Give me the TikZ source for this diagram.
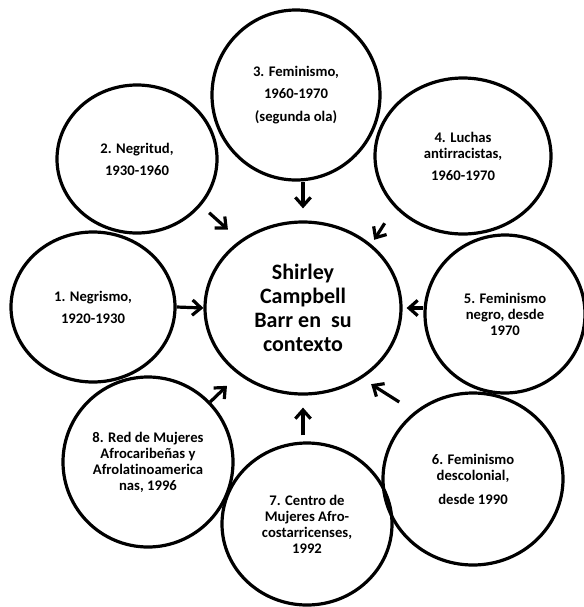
\documentclass[tikz,border=0pt]{standalone}
\usepackage{fontspec}
\setmainfont{Carlito}[Ligatures=NoCommon]
\usepackage{tikz}
\usetikzlibrary{shapes,arrows.meta}
\tikzstyle{bubble} = [ellipse, draw, line width=2.4pt, inner sep=0pt, align=center, font=\fontsize{11}{12}\selectfont\bfseries]
\tikzstyle{hub} = [bubble, font=\fontsize{16.5}{18}\selectfont\bfseries]
\tikzstyle{arr} = [line width=2.4pt, -{Straight Barb[length=6.5pt,width=11.5pt]}]

\begin{document}
\begin{tikzpicture}[x=0.75pt, y=-0.75pt]
	\useasboundingbox (0,0) rectangle (583,607);
	\node[hub, minimum width=147pt, minimum height=129pt] (c) at (303,308) {Shirley\\Campbell\\Barr en~ su\\contexto};
	\node[bubble, minimum width=123pt, minimum height=112.5pt] (n1) at (93,307) {1. Negrismo,\\[4.5pt]1920-1930};
	\node[bubble, minimum width=120pt, minimum height=111pt] (n2) at (137,159) {2. Negritud,\\[4.5pt]1930-1960};
	\node[bubble, minimum width=126pt, minimum height=127.5pt] (n3) at (296,95) {3. Feminismo,\\[5pt]1960-1970\\[5pt](segunda ola)};
	\node[bubble, minimum width=132pt, minimum height=117pt] (n4) at (463,156) {4. Luchas\\antirracistas,\\[4.5pt]1960-1970};
	\node[bubble, minimum width=120pt, minimum height=118.5pt] (n5) at (505,314) {5. Feminismo\\negro, desde\\1970};
	\node[bubble, minimum width=135pt, minimum height=129pt] (n6) at (473,479) {6. Feminismo\\descolonial,\\[6pt]desde 1990};
	\node[bubble, minimum width=127.5pt, minimum height=121.5pt] (n7) at (307,524) {7. Centro de\\Mujeres Afro-\\costarricenses,\\1992};
	\node[bubble, minimum width=127.5pt, minimum height=127.5pt] (n8) at (148,462) {8. Red de Mujeres\\Afrocaribeñas y\\Afrolatinoamerica\\nas, 1996};

	\draw[arr] (n1.east) -- (c.west);
	\draw[arr, shorten <=8pt, shorten >=12pt] (n2.324) -- (c.133);
	\draw[arr, shorten >=9pt] (n3.south -| c) -- (c.north);
	\draw[arr, shorten <=14pt, shorten >=4pt] (n4.217) -- (c.43);
	\draw[arr, shorten >=3pt] (n5.west |- c) -- (c.east);
	\draw[arr, shorten <=13.5pt, shorten >=8pt] (n6.131) -- (c.310);
	\draw[arr, shorten <=4.5pt, shorten >=9pt] (n7.north -| c) -- (c.south);
	\draw[arr, shorten >=12pt] (n8.44) -- (c.226);
\end{tikzpicture}
\end{document}
